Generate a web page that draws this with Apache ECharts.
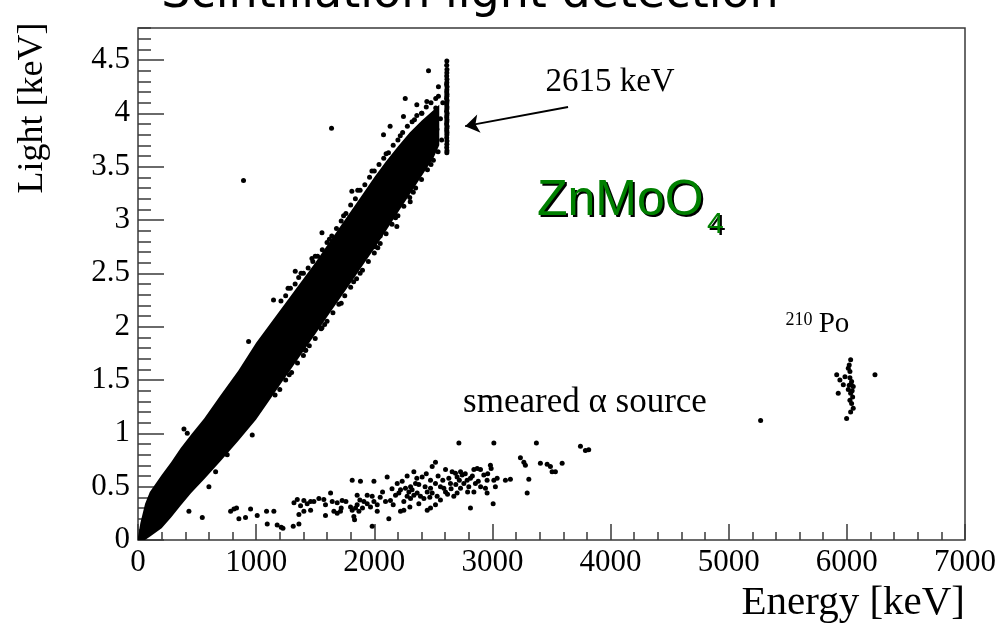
<!DOCTYPE html>
<html><head><meta charset="utf-8">
<script src="https://cdn.jsdelivr.net/npm/echarts@6/dist/echarts.min.js"></script>
<style>html,body{margin:0;padding:0;background:#fff}#c{width:1003px;height:624px}</style>
</head><body><div id="c"></div>
<script>
// ---- axis settings ----
const xMin = 0, xMax = 7000, xMajor = 1000, xMinor = 200;
const yMin = 0, yMax = 4.8, yMajor = 0.5, yMinor = 0.1;

// ---- dense beta/gamma band (edges) ----
const bandEnergy = [0, 20, 60, 100, 150, 200, 280, 360, 450, 560, 700, 850, 1000, 1100, 1200, 1300, 1400, 1500, 1600, 1700, 1800, 1900, 2000, 2100, 2200, 2300, 2400, 2500, 2550];
const bandUpper  = [0.03, 0.16, 0.34, 0.45, 0.53, 0.61, 0.73, 0.86, 0.99, 1.14, 1.36, 1.59, 1.85, 2.00, 2.15, 2.30, 2.45, 2.60, 2.76, 2.92, 3.08, 3.24, 3.40, 3.55, 3.69, 3.82, 3.93, 4.03, 4.08];
const bandLower  = [0.00, 0.00, 0.00, 0.03, 0.07, 0.11, 0.21, 0.32, 0.44, 0.57, 0.74, 0.93, 1.13, 1.29, 1.45, 1.61, 1.77, 1.93, 2.09, 2.25, 2.41, 2.57, 2.73, 2.90, 3.07, 3.24, 3.41, 3.58, 3.70];

// ---- individual events around the band edges ----
const bandEdgeEvents = [
 [1210,2.24],[1250,2.29],[1290,2.36],[1330,2.40],[1360,2.46],[1400,2.50],[1440,2.55],[1480,2.61],[1520,2.66],[1560,2.72],[1600,2.79],[1640,2.85],[1680,2.92],[1720,2.99],[1760,3.06],[1800,3.14],[1840,3.20],[1880,3.28],[1920,3.33],[1960,3.40],[2000,3.46],[2040,3.52],[2080,3.58],[2120,3.63],[2160,3.70],[2200,3.75],[2240,3.82],[2280,3.88],[2320,3.92],[2360,3.98],[2400,4.00],[2440,4.06],[2480,4.10],[2520,4.14],
 [1270,2.36],[1380,2.50],[1500,2.66],[1620,2.82],[1740,3.04],[1860,3.28],[1980,3.46],[2100,3.62],[2220,3.79],[2340,3.94],
 [1160,1.36],[1200,1.41],[1250,1.50],[1300,1.57],[1350,1.66],[1400,1.73],[1450,1.82],[1500,1.89],[1550,1.98],[1600,2.05],[1650,2.13],[1700,2.21],[1750,2.29],[1800,2.37],[1850,2.45],[1900,2.53],[1950,2.61],[2000,2.69],[2050,2.78],[2100,2.87],[2150,2.96],[2200,3.04],[2250,3.13],[2300,3.21],[2350,3.30],[2400,3.38],[2450,3.47],[2500,3.56],[2540,3.64],
 [1280,1.55],[1420,1.78],[1580,2.02],[1720,2.22],[1880,2.50],[2030,2.74],[2180,3.02],[2330,3.26],[2480,3.52],
 [2360,4.08],[2445,4.11],[2403,4.00],[2543,4.16],[2543,4.25],[2247,3.97],[2134,3.88],[2078,3.80],[2501,3.80],[2487,3.70],[2445,3.61],
 [2520,4.05],[2480,3.95],[2420,3.90],[2560,3.95],[2530,3.85],[2580,4.10],[2570,3.75]
];
const bandOutliers = [
 [893,3.37],[1638,3.86],[2262,4.14],[2459,4.40],[389,1.04],[417,1.00],[967,0.985],[755,0.80],[657,0.64],[600,0.50],
 [1147,2.25],[936,1.86],[1331,2.52],[1557,1.99],[1416,1.78],[1825,2.42],[1472,2.64],[1810,3.27],[1557,2.88],
 [2191,2.94],[2304,3.17],[2050,2.85],[2008,2.75]
];

// ---- 2615 keV gamma line ----
const line2615 = [
 [2614,4.49],[2613,4.45],[2615,4.41],[2614,4.38],[2613,4.35],[2615,4.32],[2614,4.29],[2612,4.27],[2616,4.25],[2614,4.22],
 [2613,4.20],[2615,4.18],[2614,4.16],[2612,4.14],[2616,4.12],[2614,4.10],[2613,4.08],[2615,4.06],[2614,4.04],[2612,4.02],
 [2616,4.00],[2614,3.98],[2613,3.96],[2615,3.94],[2614,3.92],[2612,3.90],[2616,3.88],[2614,3.86],[2613,3.84],[2615,3.82],
 [2614,3.80],[2613,3.77],[2615,3.74],[2614,3.71],[2613,3.68],[2615,3.65],[2614,3.63]
];

// ---- smeared alpha source ----
const alphaSource = [
 [431,0.27],[544,0.21],[784,0.27],[812,0.29],[834,0.30],[854,0.20],[910,0.21],[953,0.29],[1009,0.23],[1088,0.27],[1150,0.27],[1094,0.15],[1178,0.14],[1212,0.12],[1227,0.11],[1314,0.13],[1362,0.15],
 [1320,0.35],[1348,0.38],[1376,0.32],[1404,0.37],[1432,0.34],[1461,0.36],[1489,0.36],[1362,0.24],[1404,0.27],[1461,0.28],
 [1531,0.39],[1573,0.38],[1587,0.33],[1630,0.44],[1587,0.23],[1658,0.27],[1686,0.25],[1714,0.27],[1644,0.36],[1686,0.35],[1728,0.37],
 [1799,0.31],[1813,0.28],[1841,0.30],[1855,0.33],[1870,0.27],[1827,0.22],[1833,0.19],[1813,0.56],[1883,0.55],
 [1855,0.42],[1878,0.375],[1912,0.36],[1940,0.34],[1968,0.31],[1997,0.36],[2025,0.33],[1940,0.42],[1982,0.41],[1997,0.55],[1982,0.13],[2025,0.27],
 [2095,0.36],[2137,0.37],[2109,0.59],[2123,0.20],[2180,0.42],[2208,0.44],[2222,0.47],[2194,0.53],[2236,0.55],[2222,0.27],[2250,0.28],
 [2278,0.60],[2264,0.485],[2293,0.45],[2307,0.50],[2278,0.41],[2307,0.39],[2335,0.42],[2301,0.31],[2335,0.64],
 [2349,0.53],[2377,0.52],[2405,0.59],[2363,0.44],[2391,0.41],[2420,0.39],[2377,0.34],
 [2448,0.28],[2476,0.30],[2448,0.45],[2476,0.485],[2490,0.44],[2490,0.69],[2518,0.73],[2476,0.56],[2518,0.53],
 [2532,0.41],[2560,0.375],[2518,0.33],[2589,0.485],[2603,0.45],[2603,0.66],[2631,0.58],[2645,0.53],
 [2659,0.64],[2687,0.625],[2701,0.59],[2673,0.41],[2701,0.44],[2716,0.91],[2730,0.64],[2744,0.61],[2730,0.485],[2758,0.53],
 [2786,0.56],[2814,0.58],[2843,0.66],[2871,0.67],[2814,0.30],[2800,0.50],[2843,0.45],[2856,0.53],
 [2899,0.66],[2927,0.61],[2955,0.56],[2941,0.485],[2955,0.44],[2983,0.70],[2989,0.67],[3012,0.91],[3012,0.56],[3025,0.50],[3006,0.34],
 [3110,0.56],[3152,0.57],[3237,0.77],[3266,0.73],[3279,0.70],[3308,0.57],[3294,0.44],[3372,0.91],
 [3406,0.72],[3463,0.71],[3491,0.69],[3505,0.64],[3533,0.64],[3590,0.72],[3745,0.88],[3787,0.84],[3815,0.845],
 [2050,0.40],[2070,0.45],[2150,0.48],[2160,0.33],[2250,0.36],[2320,0.47],[2360,0.58],[2430,0.50],[2440,0.62],[2470,0.40],
 [2540,0.60],[2560,0.50],[2580,0.56],[2620,0.43],[2650,0.48],[2690,0.52],[2720,0.56],[2770,0.62],[2790,0.45],[2830,0.60],
 [2880,0.55],[2900,0.50],[2960,0.62],[3040,0.58],[1720,0.30],[1900,0.30],[1760,0.36],
 [5270,1.12]
];

// ---- 210Po peak ----
const po210 = [
 [6032,1.69],[6020,1.64],[6012,1.61],[6026,1.58],[5914,1.55],[5941,1.50],[5970,1.455],[5984,1.53],[6026,1.52],[6040,1.485],
 [6054,1.44],[6012,1.41],[6032,1.376],[6049,1.34],[6026,1.31],[6040,1.28],[5927,1.376],[6054,1.235],[6032,1.20],[5998,1.14],
 [6238,1.55],[6035,1.46],[6045,1.40],[6020,1.45]
];

// ---- arrow pointing at the 2615 keV line ----
const arrow2615 = [[3640,4.06],[2769,3.88]];

// ---- texts ----
const titleText = 'Scintillation light detection';
const xTitle = 'Energy [keV]';
const yTitle = 'Light [keV]';

const bandPolygon = bandEnergy.map((e,i)=>[e,bandUpper[i]]).concat(bandEnergy.map((e,i)=>[e,bandLower[i]]).reverse());

const chart = echarts.init(document.getElementById('c'));
const frameColor = '#3a3a3a';
const serif = '"Liberation Serif", "Times New Roman", serif';
const dot = {type:'scatter', xAxisIndex:0, yAxisIndex:0, symbol:'circle', symbolSize:5, itemStyle:{color:'#000', opacity:1}, silent:true, z:3};

chart.setOption({
  animation:false,
  backgroundColor:'#fff',
  grid:{left:138, right:38, top:28, bottom:84, show:true, borderColor:frameColor, borderWidth:1.5, backgroundColor:'transparent'},
  xAxis:[
    {type:'value', min:xMin, max:xMax, interval:xMajor, position:'bottom',
     axisLine:{show:false}, splitLine:{show:false},
     axisTick:{show:true, inside:true, length:16, lineStyle:{color:frameColor, width:1.5}},
     axisLabel:{fontFamily:serif, fontSize:31, color:'#000', margin:7, formatter:v=>String(v)}},
    {type:'value', min:xMin, max:xMax, interval:xMinor, position:'bottom',
     axisLine:{show:false}, splitLine:{show:false},
     axisTick:{show:true, inside:true, length:8, lineStyle:{color:frameColor, width:1.5}},
     axisLabel:{show:false}}
  ],
  yAxis:[
    {type:'value', min:yMin, max:yMax, interval:yMajor, position:'left',
     axisLine:{show:false}, splitLine:{show:false},
     axisTick:{show:true, inside:true, length:26, lineStyle:{color:frameColor, width:1.5}},
     axisLabel:{fontFamily:serif, fontSize:31, color:'#000', margin:8, showMaxLabel:false, formatter:v=>String(v)}},
    {type:'value', min:yMin, max:yMax, interval:yMinor, position:'left',
     axisLine:{show:false}, splitLine:{show:false},
     axisTick:{show:true, inside:true, length:13, lineStyle:{color:frameColor, width:1.5}},
     axisLabel:{show:false}}
  ],
  series:[
    {type:'custom', xAxisIndex:0, yAxisIndex:0, silent:true, z:2,
     data:[bandPolygon[0]],
     renderItem:(params, api)=>({type:'polygon', shape:{points:bandPolygon.map(p=>api.coord(p))}, style:{fill:'#000'}})},
    Object.assign({}, dot, {data:bandEdgeEvents}),
    Object.assign({}, dot, {data:bandOutliers}),
    Object.assign({}, dot, {data:line2615}),
    Object.assign({}, dot, {data:alphaSource}),
    Object.assign({}, dot, {data:po210,
      markLine:{silent:true, symbol:['none','arrow'], symbolSize:14, label:{show:false},
        lineStyle:{color:'#000', width:2, type:'solid', opacity:1},
        data:[[{coord:arrow2615[0]},{coord:arrow2615[1]}]]}})
  ],
  graphic:[
    {type:'text', x:470, y:-5, style:{text:titleText, font:'46px "DejaVu Sans"', fill:'#000', align:'center', verticalAlign:'middle'}},
    {type:'text', x:33, y:108, rotation:Math.PI/2, style:{text:yTitle, font:'36px '+serif, fill:'#000', align:'center', verticalAlign:'middle'}},
    {type:'text', x:965, y:603, style:{text:xTitle, font:'41px '+serif, fill:'#000', align:'right', verticalAlign:'middle'}},
    {type:'text', x:610, y:82, style:{text:'2615 keV', font:'33px '+serif, fill:'#000', align:'center', verticalAlign:'middle'}},
    {type:'text', x:585, y:403, style:{text:'smeared \u03b1 source', font:'35px '+serif, fill:'#000', align:'center', verticalAlign:'middle'}},
    {type:'text', x:799, y:320, style:{text:'210', font:'18px '+serif, fill:'#000', align:'center', verticalAlign:'middle'}},
    {type:'text', x:834, y:324, style:{text:'Po', font:'29px '+serif, fill:'#000', align:'center', verticalAlign:'middle'}},
    {type:'text', x:539, y:203, style:{text:'ZnMoO', font:'50px "Liberation Sans"', fill:'#000', align:'left', verticalAlign:'middle'}},
    {type:'text', x:537, y:201, style:{text:'ZnMoO', font:'50px "Liberation Sans"', fill:'#008000', align:'left', verticalAlign:'middle'}},
    {type:'text', x:709, y:227, style:{text:'4', font:'30px "Liberation Sans"', fill:'#000', align:'left', verticalAlign:'middle'}},
    {type:'text', x:707, y:225, style:{text:'4', font:'30px "Liberation Sans"', fill:'#008000', align:'left', verticalAlign:'middle'}}
  ]
});
</script>
</body></html>
